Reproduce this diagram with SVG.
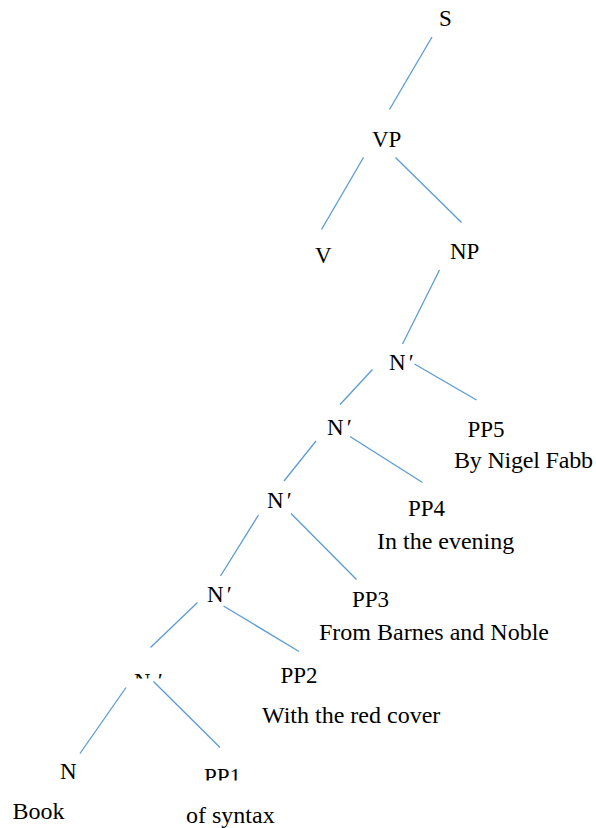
<svg xmlns="http://www.w3.org/2000/svg" width="596" height="828" viewBox="0 0 596 828">
<style>
text { font-family: "Liberation Serif", "Times New Roman", serif; font-size: 23px; fill: #000; }
.ph { font-size: 24px; }
.edge { stroke: #5B9BD5; stroke-width: 1.3; fill: none; }
</style>
<defs>
<clipPath id="clipN5"><rect x="100" y="640" width="100" height="38.5"/></clipPath>
<clipPath id="clipPP1"><rect x="180" y="750" width="90" height="30.5"/></clipPath>
</defs>
<rect width="596" height="828" fill="#fff"/>
<g id="connectors">
<line class="edge" x1="432" y1="37" x2="389.5" y2="109.5"/>
<line class="edge" x1="363.5" y1="157.5" x2="321.5" y2="229.5"/>
<line class="edge" x1="395.5" y1="157.5" x2="461.5" y2="222.5"/>
<line class="edge" x1="439.5" y1="270" x2="402.5" y2="344"/>
<line class="edge" x1="372.5" y1="369.5" x2="340" y2="404.5"/>
<line class="edge" x1="414.5" y1="364" x2="476.5" y2="400"/>
<line class="edge" x1="316" y1="441" x2="284" y2="481"/>
<line class="edge" x1="350" y1="436.5" x2="422.5" y2="482.5"/>
<line class="edge" x1="258.5" y1="515" x2="220.5" y2="576"/>
<line class="edge" x1="291" y1="513.5" x2="356.5" y2="579.5"/>
<line class="edge" x1="197.5" y1="602.5" x2="150.5" y2="647.5"/>
<line class="edge" x1="223.5" y1="606" x2="299" y2="651.5"/>
<line class="edge" x1="126" y1="687.5" x2="80" y2="753.5"/>
<line class="edge" x1="153.5" y1="681.5" x2="220" y2="747.5"/>
</g>
<g id="S"><text x="439" y="26">S</text></g>
<g id="VP"><text x="372" y="147">VP</text></g>
<g id="V"><text x="315" y="263">V</text></g>
<g id="NP"><text x="450" y="259">NP</text></g>
<g id="Nbar1"><text x="389" y="370">N<tspan dx="3">′</tspan></text></g>
<g id="Nbar2"><text x="327" y="435">N<tspan dx="3">′</tspan></text></g>
<g id="PP5"><text x="467.5" y="437">PP5</text><text class="ph" x="454" y="468" textLength="139" lengthAdjust="spacing">By Nigel Fabb</text></g>
<g id="Nbar3"><text x="267" y="508">N<tspan dx="3">′</tspan></text></g>
<g id="PP4"><text x="408" y="516">PP4</text><text class="ph" x="377" y="548.5">In the evening</text></g>
<g id="Nbar4"><text x="207" y="602">N<tspan dx="3">′</tspan></text></g>
<g id="PP3"><text x="352" y="607">PP3</text><text class="ph" x="319" y="639.5">From Barnes and Noble</text></g>
<g id="Nbar5" clip-path="url(#clipN5)"><text x="134" y="689">N<tspan dx="7">′</tspan></text></g>
<g id="PP2"><text x="280.5" y="683">PP2</text><text class="ph" x="262" y="723">With the red cover</text></g>
<g id="N"><text x="60" y="779">N</text><text class="ph" x="12.5" y="819">Book</text></g>
<g id="PP1"><g clip-path="url(#clipPP1)"><text x="204" y="784">PP1</text></g><text class="ph" x="186" y="823">of syntax</text></g>
</svg>
